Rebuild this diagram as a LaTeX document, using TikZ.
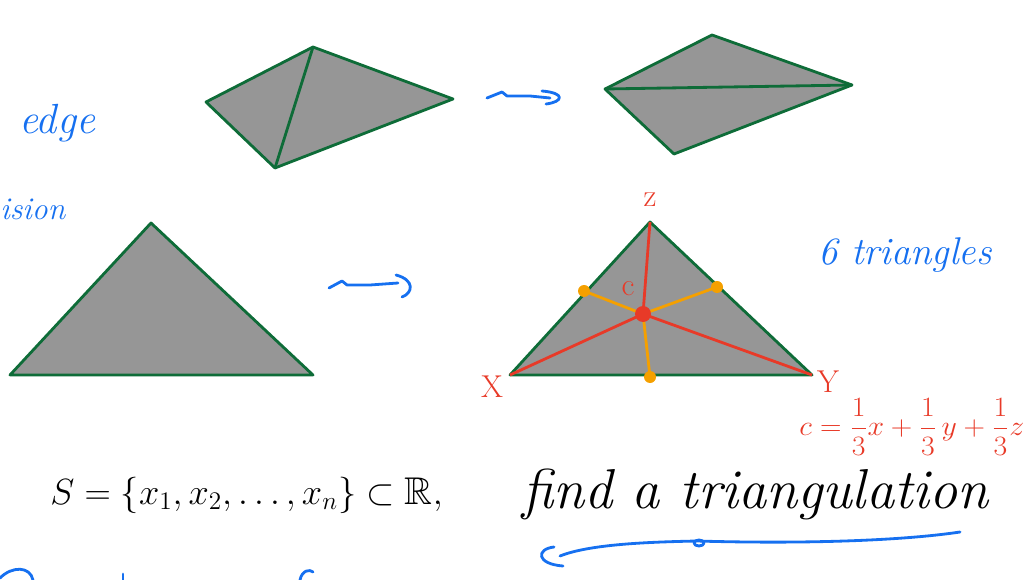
\documentclass[tikz,border=0pt]{standalone}
\usepackage{amsmath}
\usepackage{amssymb}
\usepackage{xcolor}
\usepackage{tikz}
\usetikzlibrary{arrows.meta,calc}

\definecolor{meshgreen}{RGB}{14,108,56}
\definecolor{meshgray}{RGB}{150,150,150}
\definecolor{penred}{RGB}{232,58,40}
\definecolor{penorange}{RGB}{245,160,0}
\definecolor{penblue}{RGB}{22,112,240}

\begin{document}
\begin{tikzpicture}[x=0.02cm,y=-0.02cm,>=Latex,
  face/.style={fill=meshgray,draw=meshgreen,line width=1.6pt,line join=round},
  edgeline/.style={draw=meshgreen,line width=1.6pt},
  redline/.style={draw=penred,line width=1.6pt},
  orangeline/.style={draw=penorange,line width=1.6pt},
  pen/.style={draw=penblue,line width=1.6pt,line cap=round,line join=round},
  bluetext/.style={text=penblue,font=\itshape\fontsize{22}{24}\selectfont,inner sep=0pt},
  redtext/.style={text=penred,font=\fontsize{18}{20}\selectfont,inner sep=0pt},
  blacktext/.style={text=black,inner sep=0pt}]
  \useasboundingbox (0,0) rectangle (1026,580);

  % edge flip, before
  \coordinate (pl) at (206,102);
  \coordinate (pt) at (313,47);
  \coordinate (pr) at (453,99);
  \coordinate (pb) at (275,168);
  \draw[face] (pl) -- (pt) -- (pr) -- (pb) -- cycle;
  \draw[edgeline] (pt) -- (pb);

  % edge flip, after
  \coordinate (ql) at (605,89);
  \coordinate (qt) at (712,35);
  \coordinate (qr) at (852,85);
  \coordinate (qb) at (674,154);
  \draw[face] (ql) -- (qt) -- (qr) -- (qb) -- cycle;
  \draw[edgeline] (ql) -- (qr);

  % plain triangle
  \coordinate (ta) at (10,375);
  \coordinate (tb) at (151,223);
  \coordinate (tc) at (313,375);
  \draw[face] (ta) -- (tb) -- (tc) -- cycle;

  % subdivided triangle
  \coordinate (vx) at (510,375);
  \coordinate (vz) at (650,222);
  \coordinate (vy) at (812,375);
  \coordinate (vc) at (643,314);
  \coordinate (mxz) at (584,291);
  \coordinate (myz) at (717,287);
  \coordinate (mxy) at (650,377);
  \draw[face] (vx) -- (vz) -- (vy) -- cycle;
  \draw[orangeline] (vc) -- (mxz);
  \draw[orangeline] (vc) -- (myz);
  \draw[orangeline] (vc) -- (mxy);
  \draw[redline] (vc) -- (vx);
  \draw[redline] (vc) -- (vy);
  \draw[redline] (vc) -- (vz);
  \foreach \m in {mxz,myz,mxy}
    \fill[penorange] (\m) circle (6);
  \fill[penred] (vc) circle (8);

  \node[redtext] (lz) at (650,200) {z};
  \node[redtext] (lx) at (492,387) {X};
  \node[redtext] (ly) at (828,382) {Y};
  \node[redtext] (lc) at (628,289) {c};
  \node[redtext,anchor=west] (formula) at (799,427)
    {\resizebox{4.5cm}{0.74cm}{$c=\dfrac{1}{3}x+\dfrac{1}{3}\,y+\dfrac{1}{3}z$}};

  % squiggly arrows
  \draw[pen] (487,98) -- (502,92) -- (507,96) -- (530,96) -- (550,98);
  \draw[pen] (542,91) .. controls (566,93) and (563,102) .. (546,104);
  \draw[pen] (329,288) -- (342,281) -- (347,285) -- (370,285) -- (398,283);
  \draw[pen] (396,275) .. controls (415,280) and (413,293) .. (402,297);

  % blue notes
  \node[bluetext,font=\itshape\fontsize{24}{26}\selectfont] (edge) at (57,123) {edge};
  \node[bluetext,anchor=west,font=\itshape\fontsize{18}{20}\selectfont] (ision) at (0,209) {ision};
  \node[bluetext] (six) at (905,255) {6 triangles};

  % problem statement
  \node[blacktext,anchor=west,font=\fontsize{22}{26}\selectfont] (setS) at (50,495)
    {$S=\{x_1,x_2,\dots,x_n\}\subset\mathbb{R},$};
  \node[blacktext,anchor=west,font=\itshape\fontsize{32}{36}\selectfont] (task) at (522,494)
    {find a triangulation};

  % underline
  \draw[pen] (563,566) .. controls (536,564) and (536,549) .. (554,547);
  \draw[pen] (560,556) .. controls (590,544) and (650,542) .. (697,541)
    .. controls (800,544) and (900,541) .. (960,532);
  \draw[pen] (699,543) ellipse (5 and 3);

  % cut-off strokes at the bottom
  \draw[pen] (0,578) .. controls (12,566) and (30,566) .. (33,580);
  \draw[pen] (123,574) -- (123,580);
  \draw[pen] (300,580) .. controls (302,570) and (310,569) .. (313,572);
\end{tikzpicture}
\end{document}
